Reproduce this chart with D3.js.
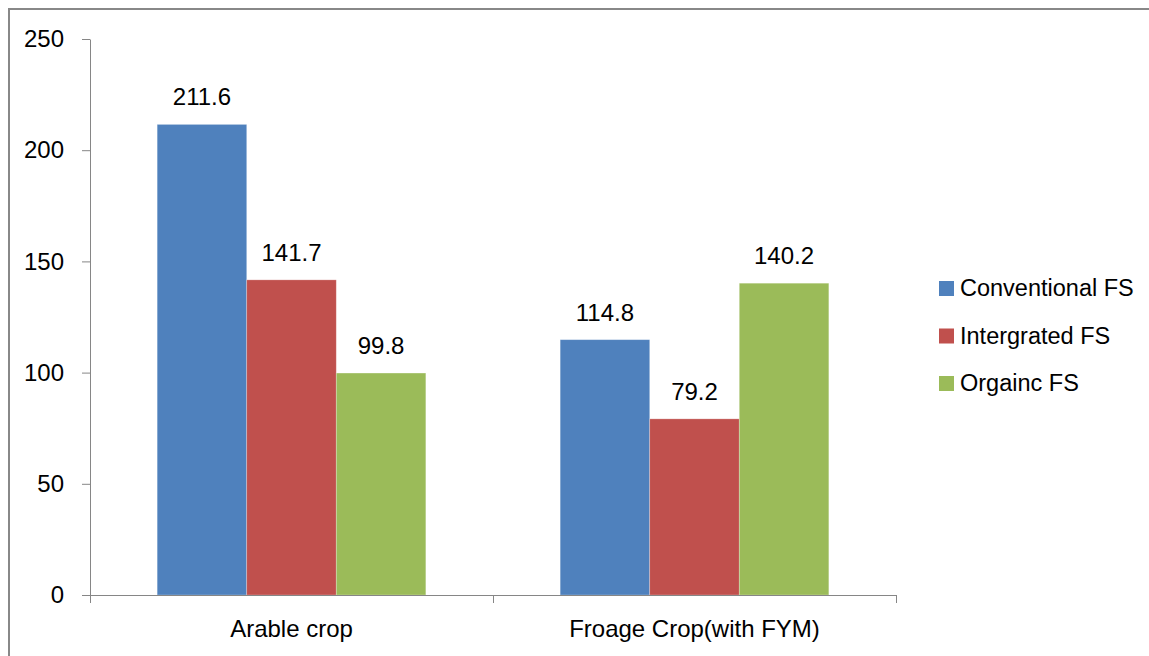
<!DOCTYPE html>
<html>
<head>
<meta charset="utf-8">
<script src="https://cdn.jsdelivr.net/npm/d3@7"></script>
<style>
  html, body { margin: 0; padding: 0; background: #fff; }
  svg { display: block; font-family: "Liberation Sans", Arial, sans-serif; }
</style>
</head>
<body>
<div id="chart"></div>
<script>
(function () {
  'use strict';

  // Chart data
  var categories = ['Arable crop', 'Froage Crop(with FYM)'];
  var seriesNames = ['Conventional FS', 'Intergrated FS', 'Orgainc FS'];
  var seriesColors = ['#4F81BD', '#C0504D', '#9BBB59'];
  var conventional = [211.6, 114.8];
  var integrated = [141.7, 79.2];
  var organic = [99.8, 140.2];
  var yTicks = [0, 50, 100, 150, 200, 250];

  var seriesValues = [conventional, integrated, organic];

  var width = 1149;
  var height = 656;
  var margin = { top: 39, left: 90, right: 253, bottom: 61 };
  var plotW = width - margin.left - margin.right;
  var plotH = height - margin.top - margin.bottom;

  var svg = d3.select('#chart')
    .append('svg')
    .attr('width', width)
    .attr('height', height);

  // Outer frame (cut off at right and bottom, as in the source)
  svg.append('rect')
    .attr('x', 9)
    .attr('y', 9)
    .attr('width', width + 20)
    .attr('height', height + 20)
    .attr('fill', 'none')
    .attr('stroke', '#888')
    .attr('stroke-width', 2);

  var g = svg.append('g')
    .attr('transform', 'translate(' + margin.left + ',' + margin.top + ')');

  // Scales
  var x0 = d3.scaleBand().domain(categories).range([0, plotW]).padding(0);
  var x1 = d3.scaleBand().domain(seriesNames).range([0, x0.bandwidth()])
    .paddingInner(0).paddingOuter(0.75);
  var y = d3.scaleLinear().domain([0, 250]).range([plotH, 0]);

  // Bars
  var rows = [];
  categories.forEach(function (c, ci) {
    seriesNames.forEach(function (s, si) {
      rows.push({ cat: c, series: s, color: seriesColors[si], value: seriesValues[si][ci] });
    });
  });

  g.selectAll('rect.bar')
    .data(rows)
    .enter()
    .append('rect')
    .attr('class', 'bar')
    .attr('x', function (d) { return x0(d.cat) + x1(d.series); })
    .attr('y', function (d) { return y(d.value); })
    .attr('width', x1.bandwidth())
    .attr('height', function (d) { return plotH - y(d.value); })
    .attr('fill', function (d) { return d.color; })
    .attr('stroke', 'rgba(255,255,255,0.35)')
    .attr('stroke-width', 0.75);

  // Value labels
  g.selectAll('text.val')
    .data(rows)
    .enter()
    .append('text')
    .attr('class', 'val')
    .attr('x', function (d) { return x0(d.cat) + x1(d.series) + x1.bandwidth() / 2; })
    .attr('y', function (d) { return y(d.value) - 19; })
    .attr('text-anchor', 'middle')
    .attr('font-size', 24)
    .attr('fill', '#000')
    .text(function (d) { return d.value.toFixed(1); });

  // Y axis
  var yAxis = g.append('g')
    .call(d3.axisLeft(y).tickValues(yTicks).tickSize(8).tickPadding(18).tickSizeOuter(0));
  yAxis.select('.domain').attr('stroke', '#868686');
  yAxis.selectAll('.tick line').attr('stroke', '#868686');
  yAxis.selectAll('.tick text')
    .attr('font-size', 24)
    .attr('font-family', '"Liberation Sans", Arial, sans-serif')
    .attr('fill', '#000');

  // X axis: ticks at category boundaries
  var xAxisG = g.append('g').attr('transform', 'translate(0,' + plotH + ')');
  xAxisG.append('line')
    .attr('x1', 0).attr('x2', plotW)
    .attr('y1', 0.5).attr('y2', 0.5)
    .attr('stroke', '#868686');
  var bounds = [0].concat(categories.map(function (c) { return x0(c) + x0.bandwidth(); }));
  xAxisG.selectAll('line.xt')
    .data(bounds)
    .enter()
    .append('line')
    .attr('class', 'xt')
    .attr('x1', function (d) { return Math.round(d) + 0.5; })
    .attr('x2', function (d) { return Math.round(d) + 0.5; })
    .attr('y1', 0)
    .attr('y2', 8)
    .attr('stroke', '#868686');
  xAxisG.selectAll('text.cat')
    .data(categories)
    .enter()
    .append('text')
    .attr('class', 'cat')
    .attr('x', function (d) { return x0(d) + x0.bandwidth() / 2; })
    .attr('y', 42)
    .attr('text-anchor', 'middle')
    .attr('font-size', 24)
    .attr('fill', '#000')
    .text(function (d) { return d; });

  // Legend
  var legend = svg.append('g').attr('transform', 'translate(939,288)');
  var item = legend.selectAll('g.item')
    .data(seriesNames)
    .enter()
    .append('g')
    .attr('class', 'item')
    .attr('transform', function (d, i) { return 'translate(0,' + (i * 47.5) + ')'; });
  item.append('rect')
    .attr('x', 0)
    .attr('y', -7)
    .attr('width', 15)
    .attr('height', 15)
    .attr('fill', function (d, i) { return seriesColors[i]; });
  item.append('text')
    .attr('x', 21)
    .attr('y', 0)
    .attr('dy', '0.35em')
    .attr('font-size', 23.5)
    .attr('fill', '#000')
    .text(function (d) { return d; });
})();
</script>
</body>
</html>
